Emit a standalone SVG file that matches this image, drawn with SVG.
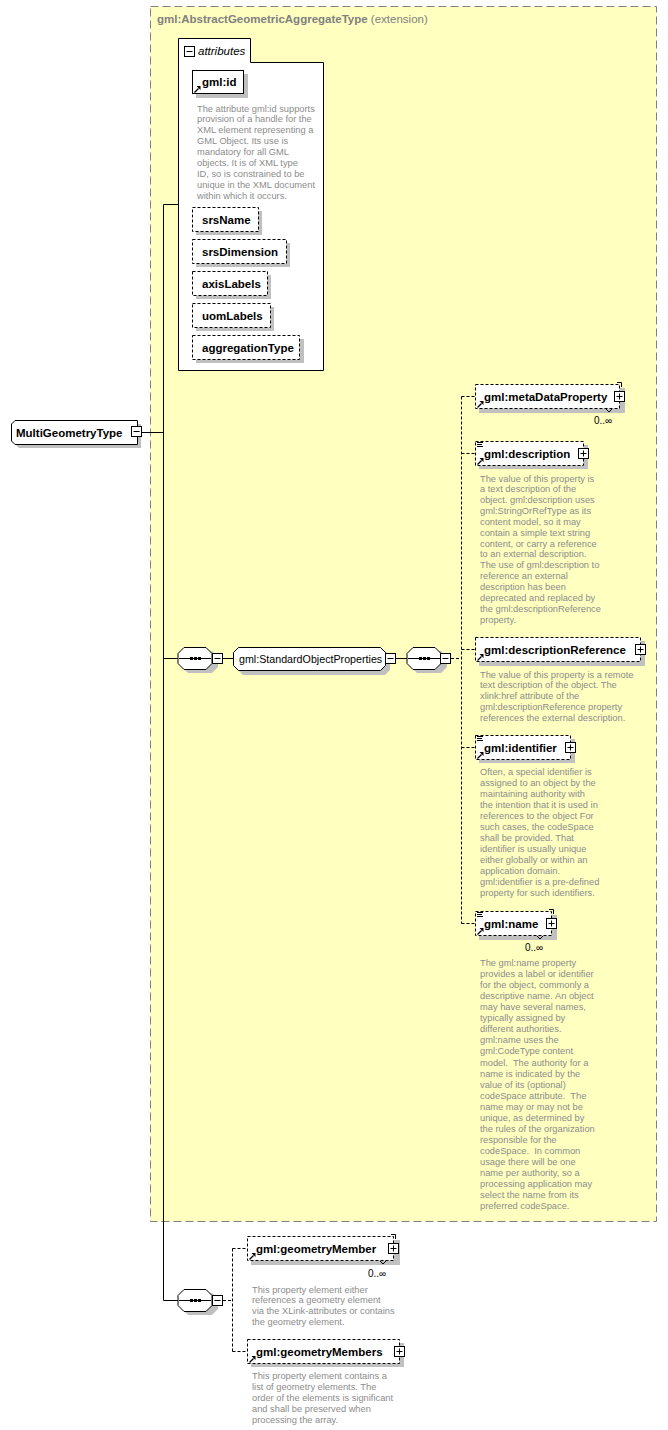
<svg xmlns="http://www.w3.org/2000/svg" xmlns:xlink="http://www.w3.org/1999/xlink" width="668" height="1430" viewBox="0 0 668 1430">
<style>
.bg{fill:#fff}
.ext{fill:#FFFFC0;stroke:#808080;stroke-width:1;stroke-dasharray:8,4}
.sh{fill:#c0c0c0;stroke:none}
.box{fill:#fff;stroke:#000;stroke-width:1}
.opt{fill:#fff;stroke:#000;stroke-width:1;stroke-dasharray:3,2}
.lbl{font-family:"Liberation Sans",Arial,sans-serif;font-weight:bold;font-size:11.5px;fill:#000}
.grp{font-family:"Liberation Sans",Arial,sans-serif;font-size:10.7px;fill:#000}
.doc{font-family:"Liberation Sans",Arial,sans-serif;font-size:9.3px;fill:#8c8c8c}
.occ{font-family:"Liberation Sans",Arial,sans-serif;font-size:10px;fill:#000}
.ttl{font-family:"Liberation Sans",Arial,sans-serif;font-size:11.5px;fill:#808080}
.ln{fill:none;stroke:#000;stroke-width:1}
.dl{fill:none;stroke:#000;stroke-width:1;stroke-dasharray:3,2}
.thin{fill:none;stroke:#000;stroke-width:1}
</style>
<defs>
<g id="plus"><rect x="0.5" y="0.5" width="10" height="10" fill="#fff" stroke="#000"/><path d="M2.5,5.5H8.5M5.5,2.5V8.5" stroke="#000" stroke-width="1"/></g>
<g id="minus"><rect x="0.5" y="0.5" width="10" height="10" fill="#fff" stroke="#000"/><path d="M2.5,5.5H8.5" stroke="#000" stroke-width="1"/></g>
<g id="ref"><path d="M0.5,6.5L4.5,2.5" stroke="#000" stroke-width="1.3"/><polygon points="2.5,0 6.5,0 6.5,4" fill="#000"/></g>
<g id="doci"><path d="M0,0.5H6M0,2.5H5M0,4.5H6" stroke="#000" stroke-width="1"/></g>
<g id="seqdots"><path d="M0,0.5H32" stroke="#000" stroke-width="1"/><rect x="11" y="-1" width="3" height="3" fill="#000"/><rect x="15" y="-1" width="3" height="3" fill="#000"/><rect x="19" y="-1" width="3" height="3" fill="#000"/></g>
</defs>
<rect class="bg" x="0" y="0" width="668" height="1430"/>

<g id="extension">
<rect class="ext" x="150.5" y="6.5" width="506" height="1215"/>
<text x="157" y="23"><tspan class="ttl" font-weight="bold">gml:AbstractGeometricAggregateType</tspan><tspan class="ttl"> (extension)</tspan></text>
</g>

<g id="connectors">
<path class="ln" d="M142,432.5H163.5"/>
<path class="ln" d="M163.5,204.5V1300.5"/>
<path class="ln" d="M163.5,204.5H178"/>
<path class="ln" d="M163.5,658.5H178"/>
<path class="ln" d="M223,658.5H233"/>
<path class="ln" d="M396,658.5H407"/>
<path class="dl" d="M451,658.5H461.5"/>
<path class="dl" d="M461.5,396.5V923.5"/>
<path class="dl" d="M461.5,396.5H475"/>
<path class="dl" d="M461.5,453.5H475"/>
<path class="dl" d="M461.5,649.5H475"/>
<path class="dl" d="M461.5,747.5H475"/>
<path class="dl" d="M461.5,923.5H475"/>
<path class="ln" d="M163.5,1300.5H178"/>
<path class="dl" d="M223,1300.5H232.5"/>
<path class="dl" d="M232.5,1248.5V1351.5"/>
<path class="dl" d="M232.5,1248.5H247"/>
<path class="dl" d="M232.5,1351.5H247"/>
</g>

<g id="root">
<path class="sh" d="M19,424H141V448H19L15,444V428Z"/>
<path class="box" d="M15,420.5H137.5V444.5H15L11.5,441V424Z"/>
<text class="lbl" x="16" y="436.5">MultiGeometryType</text>
<use xlink:href="#minus" x="131" y="426"/>
</g>

<g id="attributes">
<path class="box" d="M178.5,38.5H250.5V62.5H323.5V370.5H178.5Z"/>
<use xlink:href="#minus" x="184" y="46"/>
<text x="198" y="55" font-family="Liberation Sans,Arial,sans-serif" font-style="italic" font-size="11.5px" fill="#000">attributes</text>
</g>

<g id="attr-gml-id">
<rect class="sh" x="196" y="74" width="52" height="24"/>
<rect class="box" x="192.5" y="70.5" width="51" height="23"/>
<use xlink:href="#ref" x="194" y="86"/>
<text class="lbl" x="202" y="86">gml:id</text>
<text class="doc" x="197" y="111.5"><tspan x="197">The attribute gml:id supports</tspan><tspan x="197" dy="10.9">provision of a handle for the</tspan><tspan x="197" dy="10.9">XML element representing a</tspan><tspan x="197" dy="10.9">GML Object. Its use is</tspan><tspan x="197" dy="10.9">mandatory for all GML</tspan><tspan x="197" dy="10.9">objects. It is of XML type</tspan><tspan x="197" dy="10.9">ID, so is constrained to be</tspan><tspan x="197" dy="10.9">unique in the XML document</tspan><tspan x="197" dy="10.9">within which it occurs.</tspan></text>
</g>

<g id="attr-srsName">
<rect class="sh" x="196" y="211" width="66" height="24"/>
<rect class="opt" x="192.5" y="207.5" width="66" height="24"/>
<text class="lbl" x="202" y="224">srsName</text>
</g>
<g id="attr-srsDimension">
<rect class="sh" x="196" y="243" width="94" height="24"/>
<rect class="opt" x="192.5" y="239.5" width="94" height="24"/>
<text class="lbl" x="202" y="256">srsDimension</text>
</g>
<g id="attr-axisLabels">
<rect class="sh" x="196" y="275" width="75" height="24"/>
<rect class="opt" x="192.5" y="271.5" width="75" height="24"/>
<text class="lbl" x="202" y="288">axisLabels</text>
</g>
<g id="attr-uomLabels">
<rect class="sh" x="196" y="307" width="78" height="24"/>
<rect class="opt" x="192.5" y="303.5" width="78" height="24"/>
<text class="lbl" x="202" y="320">uomLabels</text>
</g>
<g id="attr-aggregationType">
<rect class="sh" x="196" y="339" width="108" height="24"/>
<rect class="opt" x="192.5" y="335.5" width="107" height="24"/>
<text class="lbl" x="202" y="352">aggregationType</text>
</g>

<g id="seq1">
<path class="sh" d="M188,651H212L218,657V667L212,673H188L182,667V657Z"/>
<path class="box" d="M184,647.5H206L212,653.5V663.5L206,669.5H184L178,663.5V653.5Z"/>
<use xlink:href="#seqdots" x="179" y="658"/>
<use xlink:href="#minus" x="212" y="653"/>
</g>

<g id="group-StandardObjectProperties">
<path class="sh" d="M243,651H385L390,656V670L385,675H243L238,670V656Z"/>
<path class="box" d="M238.5,647.5H380.5L385.5,652.5V665.5L380.5,670.5H238.5L233.5,665.5V652.5Z"/>
<text class="grp" x="239" y="662.5">gml:StandardObjectProperties</text>
<use xlink:href="#minus" x="385" y="653"/>
</g>

<g id="seq2">
<path class="sh" d="M417,651H441L447,657V667L441,673H417L411,667V657Z"/>
<path class="box" d="M413,647.5H435L441,653.5V663.5L435,669.5H413L407,663.5V653.5Z"/>
<use xlink:href="#seqdots" x="408" y="658"/>
<use xlink:href="#minus" x="440" y="653"/>
</g>

<g id="el-metaDataProperty">
<rect class="sh" x="479" y="388" width="146" height="25"/>
<rect class="opt" x="475.5" y="384.5" width="144" height="24"/>
<path class="thin" d="M617,382.5H621.5V387"/>
<path class="thin" d="M606,409L609,412L612,409"/>
<use xlink:href="#ref" x="477" y="401"/>
<text class="lbl" x="484" y="401">gml:metaDataProperty</text>
<use xlink:href="#plus" x="614" y="391"/>
<text class="occ" x="594" y="424">0..∞</text>
</g>

<g id="el-description">
<rect class="sh" x="479" y="445" width="109" height="24"/>
<rect class="opt" x="475.5" y="441.5" width="108" height="24"/>
<use xlink:href="#doci" x="477" y="442"/>
<use xlink:href="#ref" x="477" y="458"/>
<text class="lbl" x="484" y="458">gml:description</text>
<use xlink:href="#plus" x="578" y="448"/>
<text class="doc" x="480" y="481.5"><tspan x="480">The value of this property is</tspan><tspan x="480" dy="10.85">a text description of the</tspan><tspan x="480" dy="10.85">object. gml:description uses</tspan><tspan x="480" dy="10.85">gml:StringOrRefType as its</tspan><tspan x="480" dy="10.85">content model, so it may</tspan><tspan x="480" dy="10.85">contain a simple text string</tspan><tspan x="480" dy="10.85">content, or carry a reference</tspan><tspan x="480" dy="10.85">to an external description.</tspan><tspan x="480" dy="10.85">The use of gml:description to</tspan><tspan x="480" dy="10.85">reference an external</tspan><tspan x="480" dy="10.85">description has been</tspan><tspan x="480" dy="10.85">deprecated and replaced by</tspan><tspan x="480" dy="10.85">the gml:descriptionReference</tspan><tspan x="480" dy="10.85">property.</tspan></text>
</g>

<g id="el-descriptionReference">
<rect class="sh" x="479" y="641" width="166" height="25"/>
<rect class="opt" x="475.5" y="637.5" width="165" height="24"/>
<use xlink:href="#ref" x="477" y="654"/>
<text class="lbl" x="484" y="654">gml:descriptionReference</text>
<use xlink:href="#plus" x="635" y="644"/>
<text class="doc" x="480" y="677.5"><tspan x="480">The value of this property is a remote</tspan><tspan x="480" dy="10.9">text description of the object. The</tspan><tspan x="480" dy="10.9">xlink:href attribute of the</tspan><tspan x="480" dy="10.9">gml:descriptionReference property</tspan><tspan x="480" dy="10.9">references the external description.</tspan></text>
</g>

<g id="el-identifier">
<rect class="sh" x="479" y="739" width="96" height="24"/>
<rect class="opt" x="475.5" y="735.5" width="95" height="24"/>
<use xlink:href="#doci" x="477" y="736"/>
<use xlink:href="#ref" x="477" y="752"/>
<text class="lbl" x="484" y="752">gml:identifier</text>
<use xlink:href="#plus" x="565" y="742"/>
<text class="doc" x="480" y="775"><tspan x="480">Often, a special identifier is</tspan><tspan x="480" dy="11">assigned to an object by the</tspan><tspan x="480" dy="11">maintaining authority with</tspan><tspan x="480" dy="11">the intention that it is used in</tspan><tspan x="480" dy="11">references to the object For</tspan><tspan x="480" dy="11">such cases, the codeSpace</tspan><tspan x="480" dy="11">shall be provided. That</tspan><tspan x="480" dy="11">identifier is usually unique</tspan><tspan x="480" dy="11">either globally or within an</tspan><tspan x="480" dy="11">application domain.</tspan><tspan x="480" dy="11">gml:identifier is a pre-defined</tspan><tspan x="480" dy="11">property for such identifiers.</tspan></text>
</g>

<g id="el-name">
<rect class="sh" x="479" y="915" width="78" height="25"/>
<rect class="opt" x="475.5" y="911.5" width="76" height="24"/>
<path class="thin" d="M549,909.5H553.5V914"/>
<path class="thin" d="M537,936L540,939L543,936"/>
<use xlink:href="#doci" x="477" y="912"/>
<use xlink:href="#ref" x="477" y="928"/>
<text class="lbl" x="484" y="928">gml:name</text>
<use xlink:href="#plus" x="546" y="918"/>
<text class="occ" x="525" y="951">0..∞</text>
<text class="doc" x="480" y="966"><tspan x="480">The gml:name property</tspan><tspan x="480" dy="11.06">provides a label or identifier</tspan><tspan x="480" dy="11.06">for the object, commonly a</tspan><tspan x="480" dy="11.06">descriptive name. An object</tspan><tspan x="480" dy="11.06">may have several names,</tspan><tspan x="480" dy="11.06">typically assigned by</tspan><tspan x="480" dy="11.06">different authorities.</tspan><tspan x="480" dy="11.06">gml:name uses the</tspan><tspan x="480" dy="11.06">gml:CodeType content</tspan><tspan x="480" dy="11.06" xml:space="preserve">model.  The authority for a</tspan><tspan x="480" dy="11.06">name is indicated by the</tspan><tspan x="480" dy="11.06">value of its (optional)</tspan><tspan x="480" dy="11.06" xml:space="preserve">codeSpace attribute.  The</tspan><tspan x="480" dy="11.06">name may or may not be</tspan><tspan x="480" dy="11.06">unique, as determined by</tspan><tspan x="480" dy="11.06">the rules of the organization</tspan><tspan x="480" dy="11.06">responsible for the</tspan><tspan x="480" dy="11.06" xml:space="preserve">codeSpace.  In common</tspan><tspan x="480" dy="11.06">usage there will be one</tspan><tspan x="480" dy="11.06">name per authority, so a</tspan><tspan x="480" dy="11.06">processing application may</tspan><tspan x="480" dy="11.06">select the name from its</tspan><tspan x="480" dy="11.06">preferred codeSpace.</tspan></text>
</g>

<g id="seq3">
<path class="sh" d="M188,1293H212L218,1299V1309L212,1315H188L182,1309V1299Z"/>
<path class="box" d="M184,1289.5H206L212,1295.5V1305.5L206,1311.5H184L178,1305.5V1295.5Z"/>
<use xlink:href="#seqdots" x="179" y="1300"/>
<use xlink:href="#minus" x="212" y="1295"/>
</g>

<g id="el-geometryMember">
<rect class="sh" x="251" y="1240" width="149" height="25"/>
<rect class="opt" x="247.5" y="1236.5" width="146" height="24"/>
<path class="thin" d="M391,1234.5H395.5V1239"/>
<path class="thin" d="M380,1261L383,1264L386,1261"/>
<use xlink:href="#ref" x="249" y="1253"/>
<text class="lbl" x="256" y="1253">gml:geometryMember</text>
<use xlink:href="#plus" x="388" y="1243"/>
<text class="occ" x="368" y="1277">0..∞</text>
<text class="doc" x="252" y="1292.5"><tspan x="252">This property element either</tspan><tspan x="252" dy="10.9">references a geometry element</tspan><tspan x="252" dy="10.9">via the XLink-attributes or contains</tspan><tspan x="252" dy="10.9">the geometry element.</tspan></text>
</g>

<g id="el-geometryMembers">
<rect class="sh" x="251" y="1343" width="153" height="24"/>
<rect class="opt" x="247.5" y="1339.5" width="152" height="24"/>
<use xlink:href="#ref" x="249" y="1356"/>
<text class="lbl" x="256" y="1356">gml:geometryMembers</text>
<use xlink:href="#plus" x="394" y="1346"/>
<text class="doc" x="252" y="1379"><tspan x="252">This property element contains a</tspan><tspan x="252" dy="11">list of geometry elements. The</tspan><tspan x="252" dy="11">order of the elements is significant</tspan><tspan x="252" dy="11">and shall be preserved when</tspan><tspan x="252" dy="11">processing the array.</tspan></text>
</g>
</svg>
